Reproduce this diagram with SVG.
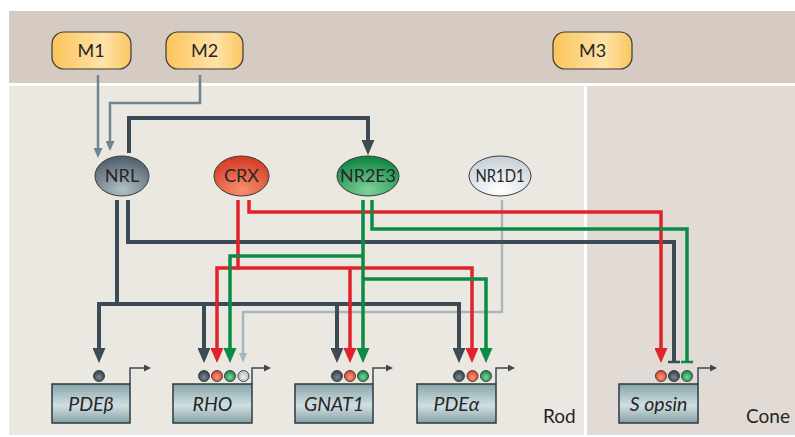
<svg xmlns="http://www.w3.org/2000/svg" width="795" height="437" viewBox="0 0 795 437">
<defs>
<style>
.lbl{font-family:Lato,"Open Sans","Liberation Sans",sans-serif;font-size:18px;font-weight:400;fill:#262626;text-anchor:middle}
.gene{font-style:italic;font-size:19.5px}
.mbox{stroke:#3a3a3a;stroke-width:1.2;fill:url(#gM)}
.gbox{stroke:#2b3a40;stroke-width:1.5;fill:url(#gG)}
.ell{stroke:#3a3a3a;stroke-width:1}
.dot{stroke:#2a2a2a;stroke-width:0.8}
.dk{stroke:#3b4a55;stroke-width:4;fill:none;stroke-linejoin:miter}
.rd{stroke:#e1222a;stroke-width:3.5;fill:none}
.gn{stroke:#0b8b45;stroke-width:3.5;fill:none}
.gy{stroke:#a9b6be;stroke-width:2.5;fill:none}
.mm{stroke:#6e8591;stroke-width:2.5;fill:none}
.pr{stroke:#3b4a55;stroke-width:1.5;fill:none}
</style>
<linearGradient id="gM" x1="0" x2="1" y1="0" y2="0"><stop offset="0" stop-color="#fbc45a"/><stop offset="0.65" stop-color="#fee3a8"/><stop offset="1" stop-color="#fbc660"/></linearGradient>
<linearGradient id="gG" x1="0" x2="0" y1="0" y2="1"><stop offset="0" stop-color="#88a4a9"/><stop offset="0.55" stop-color="#d0dfe1"/><stop offset="1" stop-color="#86a1a6"/></linearGradient>
<radialGradient id="gNRL" cx="0.5" cy="0.85" r="0.8"><stop offset="0" stop-color="#b3c0c7"/><stop offset="1" stop-color="#52626d"/></radialGradient>
<radialGradient id="gCRX" cx="0.5" cy="0.85" r="0.8"><stop offset="0" stop-color="#f6906f"/><stop offset="1" stop-color="#d63b28"/></radialGradient>
<radialGradient id="gNR2" cx="0.5" cy="0.85" r="0.8"><stop offset="0" stop-color="#7fd19c"/><stop offset="1" stop-color="#0f8744"/></radialGradient>
<radialGradient id="gNR1" cx="0.5" cy="0.85" r="0.8"><stop offset="0" stop-color="#ffffff"/><stop offset="1" stop-color="#c8d1d8"/></radialGradient>
<radialGradient id="dD" cx="0.5" cy="0.6" r="0.6"><stop offset="0" stop-color="#7d8b95"/><stop offset="1" stop-color="#2f3c45"/></radialGradient>
<radialGradient id="dR" cx="0.5" cy="0.6" r="0.6"><stop offset="0" stop-color="#f7a07e"/><stop offset="1" stop-color="#dc3a25"/></radialGradient>
<radialGradient id="dG" cx="0.5" cy="0.6" r="0.6"><stop offset="0" stop-color="#7dd39c"/><stop offset="1" stop-color="#0b8442"/></radialGradient>
<radialGradient id="dY" cx="0.5" cy="0.6" r="0.6"><stop offset="0" stop-color="#eef1f3"/><stop offset="1" stop-color="#a9b5bd"/></radialGradient>
<marker id="ad" viewBox="0 0 15 13" refX="0" refY="6.5" markerWidth="15" markerHeight="13" markerUnits="userSpaceOnUse" orient="auto"><path d="M0,0 L15,6.5 L0,13 z" fill="#3b4a55"/></marker>
<marker id="ar" viewBox="0 0 15 13" refX="0" refY="6.5" markerWidth="15" markerHeight="13" markerUnits="userSpaceOnUse" orient="auto"><path d="M0,0 L15,6.5 L0,13 z" fill="#e1222a"/></marker>
<marker id="ag" viewBox="0 0 15 13" refX="0" refY="6.5" markerWidth="15" markerHeight="13" markerUnits="userSpaceOnUse" orient="auto"><path d="M0,0 L15,6.5 L0,13 z" fill="#0b8b45"/></marker>
<marker id="ay" viewBox="0 0 10 8" refX="0" refY="4" markerWidth="10" markerHeight="8" markerUnits="userSpaceOnUse" orient="auto"><path d="M0,0 L10,4 L0,8 z" fill="#a9b6be"/></marker>
<marker id="am" viewBox="0 0 10 9" refX="0" refY="4.5" markerWidth="10" markerHeight="9" markerUnits="userSpaceOnUse" orient="auto"><path d="M0,0 L10,4.5 L0,9 z" fill="#6e8591"/></marker>
<marker id="ap" viewBox="0 0 7 7" refX="0" refY="3.5" markerWidth="7" markerHeight="7" markerUnits="userSpaceOnUse" orient="auto"><path d="M0,0 L7,3.5 L0,7 z" fill="#3b4a55"/></marker>
</defs>

<rect x="0" y="0" width="795" height="437" fill="#ffffff"/>
<rect x="9" y="11" width="786" height="72" fill="#d5cbc2"/>
<rect x="9" y="86" width="575" height="349" fill="#ebe8e2"/>
<rect x="587" y="86" width="208" height="349" fill="#e2dad5"/>

<g id="connectors">
<path class="mm" d="M98,75 V148" marker-end="url(#am)"/>
<path class="mm" d="M200,75 V103 H110 V141" marker-end="url(#am)"/>
<path class="dk" d="M129,153 V118 H368 V140" marker-end="url(#ad)"/>

<path class="gy" d="M502,200 V312 H243 V353" marker-end="url(#ay)"/>

<path class="dk" d="M117,200 V304 H99 V348" marker-end="url(#ad)"/>
<path class="dk" d="M117,304 H459 V348" marker-end="url(#ad)"/>
<path class="dk" d="M204,304 V348" marker-end="url(#ad)"/>
<path class="dk" d="M337,304 V348" marker-end="url(#ad)"/>
<path class="dk" d="M128,200 V242 H674 V361"/>
<path class="dk" d="M668,362 H680" style="stroke-width:2.5"/>

<path class="rd" d="M249,200 V212 H661 V348" marker-end="url(#ar)"/>
<path class="rd" d="M238,200 V268 H217 V348" marker-end="url(#ar)"/>
<path class="rd" d="M238,268 H472 V348" marker-end="url(#ar)"/>
<path class="rd" d="M350,268 V348" marker-end="url(#ar)"/>

<path class="gn" d="M372,200 V229 H687 V361"/>
<path class="gn" d="M681,362 H693" style="stroke-width:2.5"/>
<path class="gn" d="M363,200 V348" marker-end="url(#ag)"/>
<path class="gn" d="M363,256 H230 V348" marker-end="url(#ag)"/>
<path class="gn" d="M363,279 H486 V348" marker-end="url(#ag)"/>

<path class="pr" d="M130,384 V368 H144" marker-end="url(#ap)"/>
<path class="pr" d="M252,384 V368 H264" marker-end="url(#ap)"/>
<path class="pr" d="M373,384 V368 H386" marker-end="url(#ap)"/>
<path class="pr" d="M496,384 V368 H508" marker-end="url(#ap)"/>
<path class="pr" d="M698,384 V368 H710" marker-end="url(#ap)"/>
</g>

<g id="M1"><rect class="mbox" x="52" y="32" width="79" height="37" rx="12"/><text class="lbl" x="91" y="57">M1</text></g>
<g id="M2"><rect class="mbox" x="166" y="32" width="77" height="37" rx="12"/><text class="lbl" x="204.5" y="57">M2</text></g>
<g id="M3"><rect class="mbox" x="553" y="32" width="79" height="37" rx="12"/><text class="lbl" x="592.5" y="57">M3</text></g>

<g id="NRL"><ellipse class="ell" cx="122" cy="176" rx="27" ry="20" fill="url(#gNRL)"/><text class="lbl" x="122" y="182">NRL</text></g>
<g id="CRX"><ellipse class="ell" cx="241.5" cy="176" rx="27.5" ry="20" fill="url(#gCRX)"/><text class="lbl" x="241.5" y="182">CRX</text></g>
<g id="NR2E3"><ellipse class="ell" cx="368" cy="176" rx="31" ry="20" fill="url(#gNR2)"/><text class="lbl" x="368" y="182" textLength="56" lengthAdjust="spacingAndGlyphs">NR2E3</text></g>
<g id="NR1D1"><ellipse class="ell" cx="500" cy="176" rx="31" ry="20" fill="url(#gNR1)"/><text class="lbl" x="500" y="182" textLength="49" lengthAdjust="spacingAndGlyphs">NR1D1</text></g>

<g id="gene-PDEb">
<circle class="dot" cx="99" cy="376" r="5.5" fill="url(#dD)"/>
<rect class="gbox" x="52" y="384" width="78" height="39"/>
<text class="lbl gene" x="91" y="410.5">PDEβ</text>
</g>
<g id="gene-RHO">
<circle class="dot" cx="204" cy="376" r="5.5" fill="url(#dD)"/>
<circle class="dot" cx="217" cy="376" r="5.5" fill="url(#dR)"/>
<circle class="dot" cx="230" cy="376" r="5.5" fill="url(#dG)"/>
<circle class="dot" cx="243.5" cy="376" r="5.5" fill="url(#dY)"/>
<rect class="gbox" x="173" y="384" width="79" height="39"/>
<text class="lbl gene" x="212.5" y="410.5">RHO</text>
</g>
<g id="gene-GNAT1">
<circle class="dot" cx="337" cy="376" r="5.5" fill="url(#dD)"/>
<circle class="dot" cx="350" cy="376" r="5.5" fill="url(#dR)"/>
<circle class="dot" cx="363" cy="376" r="5.5" fill="url(#dG)"/>
<rect class="gbox" x="295" y="384" width="78" height="39"/>
<text class="lbl gene" x="334" y="410.5">GNAT1</text>
</g>
<g id="gene-PDEa">
<circle class="dot" cx="459" cy="376" r="5.5" fill="url(#dD)"/>
<circle class="dot" cx="472.5" cy="376" r="5.5" fill="url(#dR)"/>
<circle class="dot" cx="486" cy="376" r="5.5" fill="url(#dG)"/>
<rect class="gbox" x="417" y="384" width="79" height="39"/>
<text class="lbl gene" x="456.5" y="410.5">PDEα</text>
</g>
<g id="gene-Sopsin">
<circle class="dot" cx="661" cy="376" r="5.5" fill="url(#dR)"/>
<circle class="dot" cx="674" cy="376" r="5.5" fill="url(#dD)"/>
<circle class="dot" cx="687" cy="376" r="5.5" fill="url(#dG)"/>
<rect class="gbox" x="619" y="384" width="79" height="39"/>
<text class="lbl gene" x="658.5" y="410.5">S opsin</text>
</g>

<text class="lbl" x="543" y="423" style="text-anchor:start;font-size:19px">Rod</text>
<text class="lbl" x="746" y="423" style="text-anchor:start;font-size:19px">Cone</text>
</svg>
